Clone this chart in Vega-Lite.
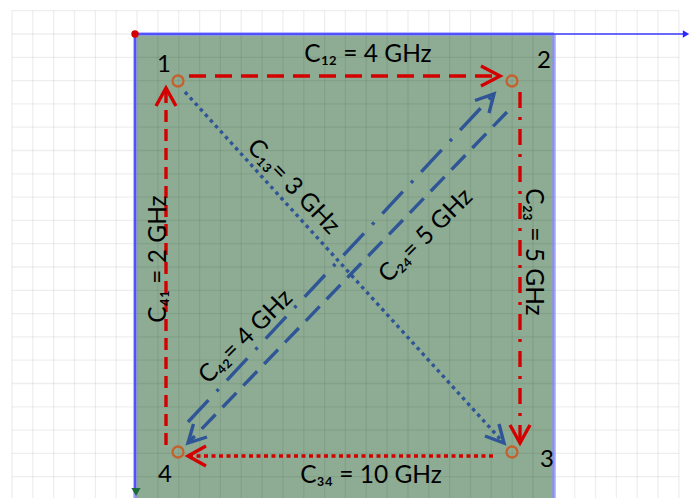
{
  "$schema": "https://vega.github.io/schema/vega-lite/v6.json",
  "width": 690,
  "height": 498,
  "autosize": "none",
  "padding": 0,
  "background": "white",
  "config": {"view": {"stroke": null}},
  "datasets": {
    "vgrid": [{"x":12},{"x":32.8},{"x":53.7},{"x":74.5},{"x":95.4},{"x":116.2},{"x":137},{"x":157.9},{"x":178.7},{"x":199.6},{"x":220.4},{"x":241.2},{"x":262.1},{"x":282.9},{"x":303.8},{"x":324.6},{"x":345.4},{"x":366.3},{"x":387.1},{"x":408},{"x":428.8},{"x":449.6},{"x":470.5},{"x":491.3},{"x":512.2},{"x":533},{"x":553.8},{"x":574.7},{"x":595.5},{"x":616.4},{"x":637.2},{"x":658},{"x":678.9}],
    "hgrid": [{"y":10.7},{"y":34},{"y":57.3},{"y":80.6},{"y":103.9},{"y":127.2},{"y":150.5},{"y":173.8},{"y":197.1},{"y":220.4},{"y":243.7},{"y":267},{"y":290.3},{"y":313.6},{"y":336.9},{"y":360.2},{"y":383.5},{"y":406.8},{"y":430.1},{"y":453.4},{"y":476.7}],
    "edges": [
      {"edge":"e12","x":189,"y":76,"x2":498,"y2":76},
      {"edge":"e23","x":520,"y":92,"x2":520,"y2":441},
      {"edge":"e34","x":493,"y":456,"x2":190,"y2":456},
      {"edge":"e41","x":166,"y":445,"x2":166,"y2":90},
      {"edge":"e13","x":185,"y":92,"x2":502,"y2":441},
      {"edge":"e24","x":188,"y":422,"x2":492,"y2":96},
      {"edge":"e42","x":507,"y":112,"x2":190,"y2":441}
    ],
    "heads": [
      {"edge":"e12","i":0,"x":481,"y":66},{"edge":"e12","i":1,"x":500,"y":76},{"edge":"e12","i":2,"x":481,"y":86},
      {"edge":"e23","i":0,"x":510,"y":425},{"edge":"e23","i":1,"x":520,"y":443},{"edge":"e23","i":2,"x":530,"y":425},
      {"edge":"e34","i":0,"x":206,"y":446},{"edge":"e34","i":1,"x":188,"y":456},{"edge":"e34","i":2,"x":206,"y":466},
      {"edge":"e41","i":0,"x":156,"y":106},{"edge":"e41","i":1,"x":166,"y":88},{"edge":"e41","i":2,"x":176,"y":106},
      {"edge":"e13","i":0,"x":499,"y":424},{"edge":"e13","i":1,"x":504,"y":443},{"edge":"e13","i":2,"x":485,"y":436},
      {"edge":"e24","i":0,"x":475,"y":100.5},{"edge":"e24","i":1,"x":494,"y":94},{"edge":"e24","i":2,"x":489,"y":113},
      {"edge":"e42","i":0,"x":207,"y":437},{"edge":"e42","i":1,"x":188,"y":443},{"edge":"e42","i":2,"x":193.5,"y":424}
    ],
    "nodes": [
      {"node":"1","x":178,"y":81,"lx":164,"ly":65},
      {"node":"2","x":512,"y":81,"lx":544,"ly":61},
      {"node":"3","x":512,"y":452,"lx":547,"ly":460},
      {"node":"4","x":178,"y":452,"lx":165,"ly":475}
    ],
    "labels": [
      {"edge":"e12","text":"C₁₂ = 4 GHz","x":368,"y":55},
      {"edge":"e34","text":"C₃₄ = 10 GHz","x":371,"y":476},
      {"edge":"e41","text":"C₄₁ = 2 GHz","x":159,"y":259},
      {"edge":"e23","text":"C₂₃ = 5 GHz","x":533,"y":252},
      {"edge":"e13","text":"C₁₃= 3 GHz","x":293,"y":187},
      {"edge":"e24","text":"C₂₄= 5 GHz","x":426,"y":236},
      {"edge":"e42","text":"C₄₂= 4 GHz","x":246,"y":337}
    ]
  },
  "encoding": {},
  "layer": [
    {
      "data": {"values": [{"x":135,"y":34,"x2":554,"y2":498}]},
      "mark": {"type":"rect","fill":"#8dac93"},
      "encoding": {
        "x": {"field":"x","type":"quantitative","scale":{"domain":[0,690],"nice":false,"zero":false},"axis":null},
        "y": {"field":"y","type":"quantitative","scale":{"domain":[0,498],"nice":false,"zero":false,"reverse":true},"axis":null},
        "x2": {"field":"x2"},
        "y2": {"field":"y2"}
      }
    },
    {
      "data": {"name":"vgrid"},
      "mark": {"type":"rule","color":"#000000","opacity":0.065,"strokeWidth":1.3},
      "encoding": {
        "x": {"field":"x","type":"quantitative"},
        "y": {"datum":10.7},
        "y2": {"datum":498}
      }
    },
    {
      "data": {"name":"hgrid"},
      "mark": {"type":"rule","color":"#000000","opacity":0.065,"strokeWidth":1.3},
      "encoding": {
        "y": {"field":"y","type":"quantitative"},
        "x": {"datum":12},
        "x2": {"datum":679}
      }
    },
    {
      "data": {"values":[{"x":135,"y":34,"x2":135,"y2":498},{"x":135,"y":34,"x2":554,"y2":34},{"x":554,"y":34,"x2":554,"y2":498}]},
      "mark": {"type":"rule","color":"#8c8cff","opacity":0.8,"strokeWidth":3.5},
      "encoding": {
        "x": {"field":"x","type":"quantitative"},
        "y": {"field":"y","type":"quantitative"},
        "x2": {"field":"x2"},
        "y2": {"field":"y2"}
      }
    },
    {
      "data": {"values":[{"x":135,"y":34,"x2":684,"y2":34},{"x":135,"y":34,"x2":135,"y2":488}]},
      "mark": {"type":"rule","color":"#3a3aff","strokeWidth":1.5},
      "encoding": {
        "x": {"field":"x","type":"quantitative"},
        "y": {"field":"y","type":"quantitative"},
        "x2": {"field":"x2"},
        "y2": {"field":"y2"}
      }
    },
    {
      "data": {"values":[{"x":686,"y":34}]},
      "mark": {"type":"point","shape":"triangle-right","filled":true,"color":"#2a2aff","opacity":1,"size":55},
      "encoding": {
        "x": {"field":"x","type":"quantitative"},
        "y": {"field":"y","type":"quantitative"}
      }
    },
    {
      "data": {"values":[{"x":136,"y":492}]},
      "mark": {"type":"point","shape":"triangle-down","filled":true,"color":"#1d6b3c","opacity":1,"size":85},
      "encoding": {
        "x": {"field":"x","type":"quantitative"},
        "y": {"field":"y","type":"quantitative"}
      }
    },
    {
      "data": {"values":[{"x":135,"y":34}]},
      "mark": {"type":"point","shape":"circle","filled":true,"color":"#d40000","opacity":1,"size":55},
      "encoding": {
        "x": {"field":"x","type":"quantitative"},
        "y": {"field":"y","type":"quantitative"}
      }
    },
    {
      "data": {"name":"edges"},
      "mark": {"type":"rule","strokeWidth":3.4,"strokeCap":"butt"},
      "encoding": {
        "x": {"field":"x","type":"quantitative"},
        "y": {"field":"y","type":"quantitative"},
        "x2": {"field":"x2"},
        "y2": {"field":"y2"},
        "color": {"field":"edge","type":"nominal","legend":null,
          "scale":{"domain":["e12","e23","e34","e41","e13","e24","e42"],
                   "range":["#d40000","#d40000","#d40000","#d40000","#2f5597","#2f5597","#2f5597"]}},
        "strokeDash": {"field":"edge","type":"nominal","legend":null,
          "scale":{"domain":["e12","e23","e34","e41","e13","e24","e42"],
                   "range":[[17,9],[16,9,3,9],[4,3.5],[12,7],[3.5,4],[30,12,3,12],[20,10]]}}
      }
    },
    {
      "data": {"name":"heads"},
      "mark": {"type":"line","strokeWidth":3.4,"strokeJoin":"miter","strokeCap":"butt"},
      "encoding": {
        "x": {"field":"x","type":"quantitative"},
        "y": {"field":"y","type":"quantitative"},
        "detail": {"field":"edge","type":"nominal"},
        "order": {"field":"i","type":"quantitative"},
        "color": {"field":"edge","type":"nominal","legend":null}
      }
    },
    {
      "data": {"name":"nodes"},
      "mark": {"type":"point","shape":"circle","filled":false,"stroke":"#c4612c","strokeWidth":2.3,"opacity":1,"size":120},
      "encoding": {
        "x": {"field":"x","type":"quantitative"},
        "y": {"field":"y","type":"quantitative"}
      }
    },
    {
      "data": {"name":"nodes"},
      "mark": {"type":"text","font":"Lato","fontSize":24,"color":"#000000","align":"center","baseline":"middle"},
      "encoding": {
        "x": {"field":"lx","type":"quantitative"},
        "y": {"field":"ly","type":"quantitative"},
        "text": {"field":"node"}
      }
    },
    {
      "data": {"name":"labels"},
      "transform": [{"filter":{"field":"edge","oneOf":["e12","e34"]}}],
      "mark": {"type":"text","font":"Lato","fontSize":24.5,"color":"#000000","align":"center","baseline":"middle"},
      "encoding": {
        "x": {"field":"x","type":"quantitative"},
        "y": {"field":"y","type":"quantitative"},
        "text": {"field":"text"}
      }
    },
    {
      "data": {"name":"labels"},
      "transform": [{"filter":{"field":"edge","equal":"e41"}}],
      "mark": {"type":"text","font":"Lato","fontSize":24.5,"color":"#000000","align":"center","baseline":"middle","angle":270},
      "encoding": {
        "x": {"field":"x","type":"quantitative"},
        "y": {"field":"y","type":"quantitative"},
        "text": {"field":"text"}
      }
    },
    {
      "data": {"name":"labels"},
      "transform": [{"filter":{"field":"edge","equal":"e23"}}],
      "mark": {"type":"text","font":"Lato","fontSize":24.5,"color":"#000000","align":"center","baseline":"middle","angle":90},
      "encoding": {
        "x": {"field":"x","type":"quantitative"},
        "y": {"field":"y","type":"quantitative"},
        "text": {"field":"text"}
      }
    },
    {
      "data": {"name":"labels"},
      "transform": [{"filter":{"field":"edge","equal":"e13"}}],
      "mark": {"type":"text","font":"Lato","fontSize":24.5,"color":"#000000","align":"center","baseline":"middle","angle":46},
      "encoding": {
        "x": {"field":"x","type":"quantitative"},
        "y": {"field":"y","type":"quantitative"},
        "text": {"field":"text"}
      }
    },
    {
      "data": {"name":"labels"},
      "transform": [{"filter":{"field":"edge","oneOf":["e24","e42"]}}],
      "mark": {"type":"text","font":"Lato","fontSize":24.5,"color":"#000000","align":"center","baseline":"middle","angle":315},
      "encoding": {
        "x": {"field":"x","type":"quantitative"},
        "y": {"field":"y","type":"quantitative"},
        "text": {"field":"text"}
      }
    }
  ]
}
